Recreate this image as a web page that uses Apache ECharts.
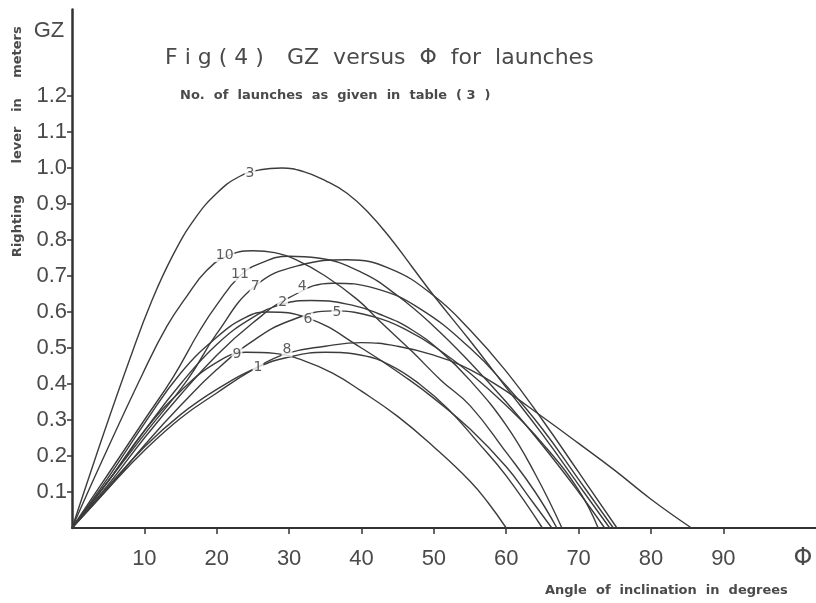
<!DOCTYPE html>
<html>
<head>
<meta charset="utf-8">
<script src="https://cdn.jsdelivr.net/npm/echarts@6/dist/echarts.min.js"></script>
<style>html,body{margin:0;padding:0;background:#fff}#c{width:816px;height:603px}</style>
</head>
<body>
<div id="c"></div>
<script>
// Tick values
var xTicks = [10, 20, 30, 40, 50, 60, 70, 80, 90];
var yTicks = [0.1, 0.2, 0.3, 0.4, 0.5, 0.6, 0.7, 0.8, 0.9, 1.0, 1.1, 1.2];

// GZ curves [angle deg, GZ m]
var curve1 = [[0,0],[5,0.115],[10,0.225],[15,0.315],[20,0.385],[25.7,0.447],[30,0.475],[35,0.488],[40,0.48],[44,0.452],[48,0.40],[52,0.33],[56,0.24],[60,0.145],[65,0]];
var curve2 = [[0,0],[5,0.13],[10,0.27],[15,0.40],[20,0.51],[25,0.585],[29.1,0.622],[33,0.632],[38,0.622],[43,0.59],[47,0.55],[51,0.49],[55,0.41],[60,0.285],[64,0.15],[67.7,0]];
var curve3 = [[0,0],[4,0.24],[8,0.47],[11,0.63],[14,0.76],[17,0.86],[20,0.93],[23,0.975],[26,0.995],[29,1.0],[32,0.99],[35,0.965],[38,0.93],[41,0.875],[44,0.805],[47,0.725],[50,0.645],[55,0.52],[60,0.39],[65,0.26],[70,0.12],[74.3,0]];
var curve4 = [[0,0],[5,0.12],[10,0.25],[15,0.37],[20,0.48],[25,0.57],[30,0.64],[36,0.68],[42,0.665],[48,0.61],[55,0.50],[60,0.395],[65,0.275],[70,0.135],[74.8,0]];
var curve5 = [[0,0],[5,0.11],[10,0.23],[15,0.34],[20,0.44],[25,0.52],[30,0.575],[36,0.603],[42,0.585],[46.7,0.545],[50,0.505],[55,0.43],[60,0.34],[65,0.235],[70,0.105],[72.7,0]];
var curve6 = [[0,0],[5,0.14],[10,0.29],[15,0.43],[20,0.53],[24,0.585],[27,0.60],[32.6,0.583],[40,0.50],[46.7,0.41],[50,0.36],[55,0.275],[60,0.17],[63,0.09],[66.3,0]];
var curve7 = [[0,0],[5,0.13],[10,0.26],[15.9,0.41],[20,0.54],[25.3,0.672],[31.5,0.73],[38,0.745],[44,0.72],[50,0.645],[55,0.55],[60,0.435],[65,0.30],[70,0.155],[75.3,0]];
var curve8 = [[0,0],[5,0.11],[10,0.215],[15,0.305],[20,0.375],[25,0.44],[29.7,0.485],[35,0.505],[40,0.515],[45,0.505],[50,0.48],[55,0.44],[60,0.38],[65.6,0.30],[70,0.235],[75,0.16],[80,0.08],[85.6,0]];
var curve9 = [[0,0],[5,0.13],[10,0.27],[15,0.38],[20,0.46],[24,0.488],[28,0.485],[32,0.465],[36,0.43],[40,0.38],[45,0.31],[50,0.225],[55,0.13],[57.5,0.07],[60,0]];
var curve10 = [[0,0],[4,0.18],[9.8,0.43],[13.1,0.56],[15.9,0.645],[18.6,0.715],[21.4,0.755],[25,0.77],[28,0.765],[31,0.745],[35,0.70],[39.4,0.635],[42.5,0.575],[47,0.49],[51,0.41],[55,0.34],[60,0.21],[64,0.10],[67,0]];
var curve11 = [[0,0],[5,0.15],[10,0.30],[14,0.42],[17.7,0.55],[20,0.62],[23.2,0.70],[26,0.735],[30,0.755],[34,0.75],[40,0.71],[45,0.645],[50,0.56],[55,0.46],[60,0.35],[65,0.23],[70,0.10],[73.6,0]];

var curveNames = ['1','2','3','4','5','6','7','8','9','10','11'];
var curves = [curve1, curve2, curve3, curve4, curve5, curve6, curve7, curve8, curve9, curve10, curve11];

// Curve number labels [angle, GZ, text]
var curveLabels = [[24.6,0.985,'3'],[21.1,0.758,'10'],[23.2,0.705,'11'],[25.3,0.672,'7'],[31.8,0.672,'4'],[29.1,0.628,'2'],[36.6,0.600,'5'],[32.6,0.580,'6'],[22.8,0.482,'9'],[29.7,0.495,'8'],[25.7,0.447,'1']];

var ink = '#3c3c3c';
var textInk = '#4a4a4a';

var series = curves.map(function (d, i) {
  return {
    name: curveNames[i], type: 'line', data: d, smooth: 0.45, symbol: 'none',
    lineStyle: { color: ink, width: 1.4 }, silent: true, z: 2
  };
});
series.push({
  type: 'scatter', data: curveLabels, symbolSize: 0, silent: true, z: 5,
  label: {
    show: true, position: 'inside', formatter: function (p) { return p.value[2]; },
    fontSize: 14, color: '#333', fontFamily: 'DejaVu Sans', backgroundColor: '#fff', padding: [0, 1]
  }
});

var chart = echarts.init(document.getElementById('c'), null, { renderer: 'canvas' });
chart.setOption({
  backgroundColor: '#fff',
  animation: false,
  grid: { left: 72, right: 0, top: 9.6, bottom: 75, containLabel: false },
  xAxis: {
    type: 'value', min: 0, max: 102.8,
    axisLine: { show: true, lineStyle: { color: '#333', width: 2 } },
    axisTick: { show: true, length: 6, lineStyle: { color: '#333', width: 1.5 }, customValues: xTicks },
    axisLabel: { customValues: xTicks, margin: 20, fontSize: 22, color: textInk, fontFamily: 'Liberation Sans' },
    splitLine: { show: false }
  },
  yAxis: {
    type: 'value', min: 0, max: 1.44,
    axisLine: { show: true, lineStyle: { color: '#333', width: 2.5 } },
    axisTick: { show: true, length: 5, lineStyle: { color: '#333', width: 1.5 }, customValues: yTicks },
    axisLabel: { customValues: yTicks, margin: 5, fontSize: 22, color: textInk, fontFamily: 'Liberation Sans',
      formatter: function (v) { return v.toFixed(1); } },
    splitLine: { show: false }
  },
  series: series,
  graphic: [
    { type: 'text', x: 49, y: 31, style: { text: 'GZ', font: '22px "Liberation Sans"', fill: textInk, align: 'center', verticalAlign: 'middle' } },
    { type: 'text', x: 803, y: 559, style: { text: 'Φ', font: '24px "DejaVu Sans"', fill: textInk, align: 'center', verticalAlign: 'middle' } },
    { type: 'text', x: 165, y: 58, style: { text: 'F i g ( 4 )', font: '22px "DejaVu Sans"', fill: textInk, align: 'left', verticalAlign: 'middle' } },
    { type: 'text', x: 287, y: 58, style: { text: 'GZ  versus  Φ  for  launches', font: '22px "DejaVu Sans"', fill: textInk, align: 'left', verticalAlign: 'middle' } },
    { type: 'text', x: 180, y: 96, style: { text: 'No.  of  launches  as  given  in  table  ( 3  )', font: 'bold 13px "DejaVu Sans"', fill: textInk, align: 'left', verticalAlign: 'middle' } },
    { type: 'text', x: 545, y: 591, style: { text: 'Angle  of  inclination  in  degrees', font: 'bold 13px "DejaVu Sans"', fill: textInk, align: 'left', verticalAlign: 'middle' } },
    { type: 'text', x: 18, y: 226, rotation: Math.PI / 2, style: { text: 'Righting', font: 'bold 13px "DejaVu Sans"', fill: textInk, align: 'center', verticalAlign: 'middle' } },
    { type: 'text', x: 18, y: 145, rotation: Math.PI / 2, style: { text: 'lever', font: 'bold 13px "DejaVu Sans"', fill: textInk, align: 'center', verticalAlign: 'middle' } },
    { type: 'text', x: 18, y: 105, rotation: Math.PI / 2, style: { text: 'in', font: 'bold 13px "DejaVu Sans"', fill: textInk, align: 'center', verticalAlign: 'middle' } },
    { type: 'text', x: 18, y: 52, rotation: Math.PI / 2, style: { text: 'meters', font: 'bold 13px "DejaVu Sans"', fill: textInk, align: 'center', verticalAlign: 'middle' } }
  ]
});
</script>
</body>
</html>
